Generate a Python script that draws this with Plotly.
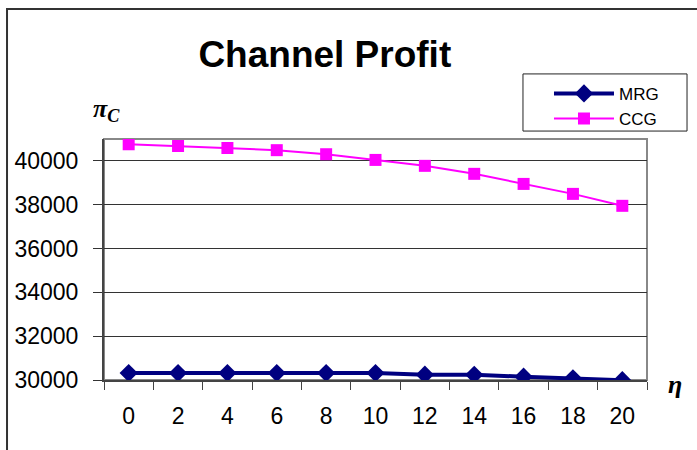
import plotly.graph_objects as go

eta = ['0', '2', '4', '6', '8', '10', '12', '14', '16', '18', '20']
mrg = [30320, 30320, 30320, 30320, 30320, 30320, 30245, 30240, 30150, 30075, 29990]
ccg = [40760, 40680, 40590, 40490, 40305, 40045, 39775, 39410, 38950, 38495, 37950]
y_ticks = [30000, 32000, 34000, 36000, 38000, 40000]
y_labels = [str(v) for v in y_ticks]

fig = go.Figure()
fig.add_trace(go.Scatter(
    x=eta, y=mrg, name='MRG', mode='lines+markers',
    line=dict(color='#000080', width=4),
    marker=dict(symbol='diamond', size=14, color='#000080'),
))
fig.add_trace(go.Scatter(
    x=eta, y=ccg, name='CCG', mode='lines+markers',
    line=dict(color='#FF00FF', width=2),
    marker=dict(symbol='square', size=12, color='#FF00FF'),
))

# outer frame of the chart, running off the right and bottom edges
fig.add_shape(type='rect', xref='paper', yref='paper',
              x0=-0.1786, x1=1.3, y0=-0.5, y1=1.539,
              line=dict(color='#333333', width=2), layer='below')
# plot area border
fig.add_shape(type='rect', xref='paper', yref='paper',
              x0=0, x1=1, y0=0, y1=1,
              line=dict(color='#888888', width=2), layer='below')
# legend box
fig.add_shape(type='rect', xref='paper', yref='paper',
              x0=0.7716, x1=1.0737, y0=1.033, y1=1.27,
              line=dict(color='#222222', width=1), fillcolor='white', layer='below')

fig.add_annotation(text='<b><i>π</i></b><sub><b><i>C</i></b></sub>', xref='paper', yref='paper',
                   x=0.034, y=1.12, xanchor='right', yanchor='middle', showarrow=False,
                   font=dict(family='Liberation Serif', size=26, color='black'))
fig.add_annotation(text='<b><i>η</i></b>', xref='paper', yref='paper',
                   x=1.035, y=-0.02, xanchor='left', yanchor='middle', showarrow=False,
                   font=dict(family='Liberation Serif', size=26, color='black'))

fig.update_layout(
    width=697, height=450,
    margin=dict(l=104, r=50, t=139, b=70),
    paper_bgcolor='white', plot_bgcolor='white',
    font=dict(family='Liberation Sans', color='black'),
    title=dict(text='<b>Channel Profit</b>', x=0.466, xanchor='center',
               y=0.881, yanchor='middle', font=dict(size=37, color='black')),
    legend=dict(x=0.8195, y=1.262, xanchor='left', yanchor='top',
                borderwidth=0, bgcolor='rgba(0,0,0,0)',
                font=dict(size=17), itemwidth=60, tracegroupgap=0),
    showlegend=True,
)
fig.update_xaxes(
    type='category', range=[-0.5, 10.5], tickson='boundaries',
    ticks='outside', ticklen=8, tickcolor='#444444', tickwidth=1,
    showline=True, linecolor='#444444', linewidth=2,
    showgrid=False, tickfont=dict(size=23), ticklabelstandoff=14,
)
fig.update_yaxes(
    range=[30000, 41000], tickvals=y_ticks, ticktext=y_labels,
    ticks='outside', ticklen=9, tickcolor='#333333',
    showline=True, linecolor='#444444', linewidth=2,
    showgrid=True, gridcolor='#333333', gridwidth=1, zeroline=False,
    tickfont=dict(size=23), ticklabelstandoff=10,
)

fig.write_html('out.html', config={'displayModeBar': False},
               post_script="document.body.style.margin='0';")
